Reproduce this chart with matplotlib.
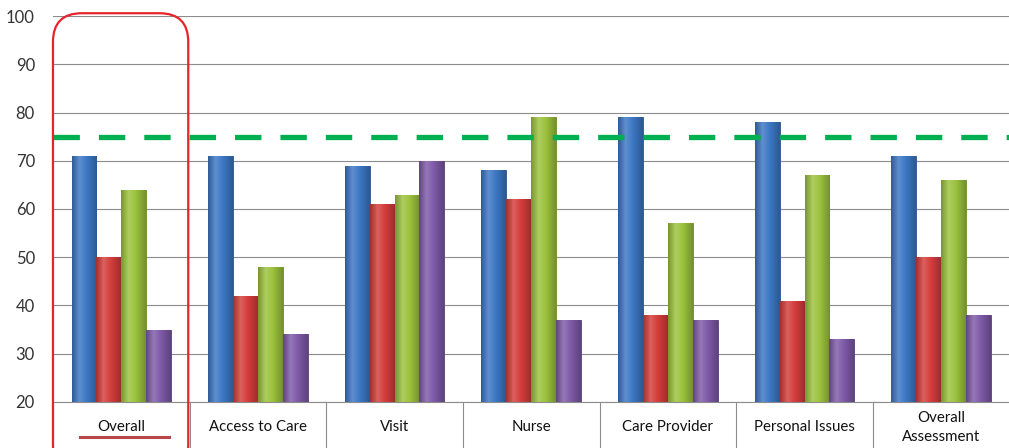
import numpy as np
import matplotlib.pyplot as plt
import matplotlib.transforms as mtransforms
from matplotlib.colors import LinearSegmentedColormap, to_rgb
from matplotlib.patches import FancyBboxPatch
from matplotlib.lines import Line2D

# data
categories = ["Overall", "Access to Care", "Visit", "Nurse",
              "Care Provider", "Personal Issues", "Overall\nAssessment"]
blue = [71, 71, 69, 68, 79, 78, 71]
red = [50, 42, 61, 62, 38, 41, 50]
green = [64, 48, 63, 79, 57, 67, 66]
purple = [35, 34, 70, 37, 37, 33, 38]
target = 75
yticks = [20, 30, 40, 50, 60, 70, 80, 90, 100]

plt.rcParams['font.family'] = ['Lato', 'DejaVu Sans']

fig = plt.figure(figsize=(10.09, 4.48), dpi=100)
ax = fig.add_axes([0.0525, 0.103, 0.948, 0.861])

x = np.arange(len(categories))
w = 0.182
series = [(blue, '#3c77c4'), (red, '#d43d3b'), (green, '#9cc23d'), (purple, '#7e5aa8')]


def shade(c, f):
    r, g, b = to_rgb(c)
    if f < 1:
        return (r * f, g * f, b * f)
    return (r + (1 - r) * (f - 1), g + (1 - g) * (f - 1), b + (1 - b) * (f - 1))


grad = np.linspace(0, 1, 40).reshape(1, -1)
for i, (vals, col) in enumerate(series):
    bars = ax.bar(x + (i - 1.5) * w, vals, w, color=col, edgecolor=shade(col, 0.7),
                  linewidth=0.6, zorder=3)
    cmap = LinearSegmentedColormap.from_list(
        'c%d' % i, [(0, shade(col, 0.78)), (0.3, shade(col, 1.18)),
                    (0.6, col), (1, shade(col, 0.75))])
    for b in bars:
        x0, y0 = b.get_x(), 20
        im = ax.imshow(grad, cmap=cmap, aspect='auto', zorder=3.5,
                       extent=[x0, x0 + b.get_width(), y0, b.get_height()])
        im.set_clip_path(b)

# target line
ax.axhline(target, color='#00b050', lw=3.8, linestyle=(0, (5.0, 3.6)), zorder=4)

ax.set_xlim(-0.5, len(categories) - 0.5)
ax.set_ylim(20, 100)
ax.set_yticks(yticks)
ax.grid(axis='y', color='#8c8c8c', lw=0.8, zorder=0)
ax.set_axisbelow(True)
for s in ['top', 'right', 'left']:
    ax.spines[s].set_visible(False)
ax.spines['bottom'].set_color('#8c8c8c')
ax.tick_params(axis='y', length=0, pad=13, labelsize=12, labelcolor='#333333')

# category separators below axis
ax.set_xticks([])
ax.set_xticks(np.arange(len(categories) + 1) - 0.5, minor=True)
ax.tick_params(axis='x', which='minor', length=34, color='#8c8c8c', width=0.8)

trans = mtransforms.blended_transform_factory(ax.transData, ax.transAxes)
for xi, lab in zip(x, categories):
    ax.text(xi, -0.066, lab, transform=trans, ha='center', va='center',
            fontsize=10.8, color='#111111', linespacing=1.45)

# highlight box around first category
box = FancyBboxPatch((-0.5, 5), 0.99, 95.6, boxstyle='round,pad=0,rounding_size=0.21',
                     mutation_aspect=28.4, fill=False, edgecolor='#e8232a', lw=1.6,
                     clip_on=False, zorder=6)
ax.add_patch(box)
ax.add_line(Line2D([-0.3, 0.35], [12.7, 12.7], color='#b8474a', lw=2.2,
                   clip_on=False, zorder=6))

fig.savefig('out.png', dpi=100)
